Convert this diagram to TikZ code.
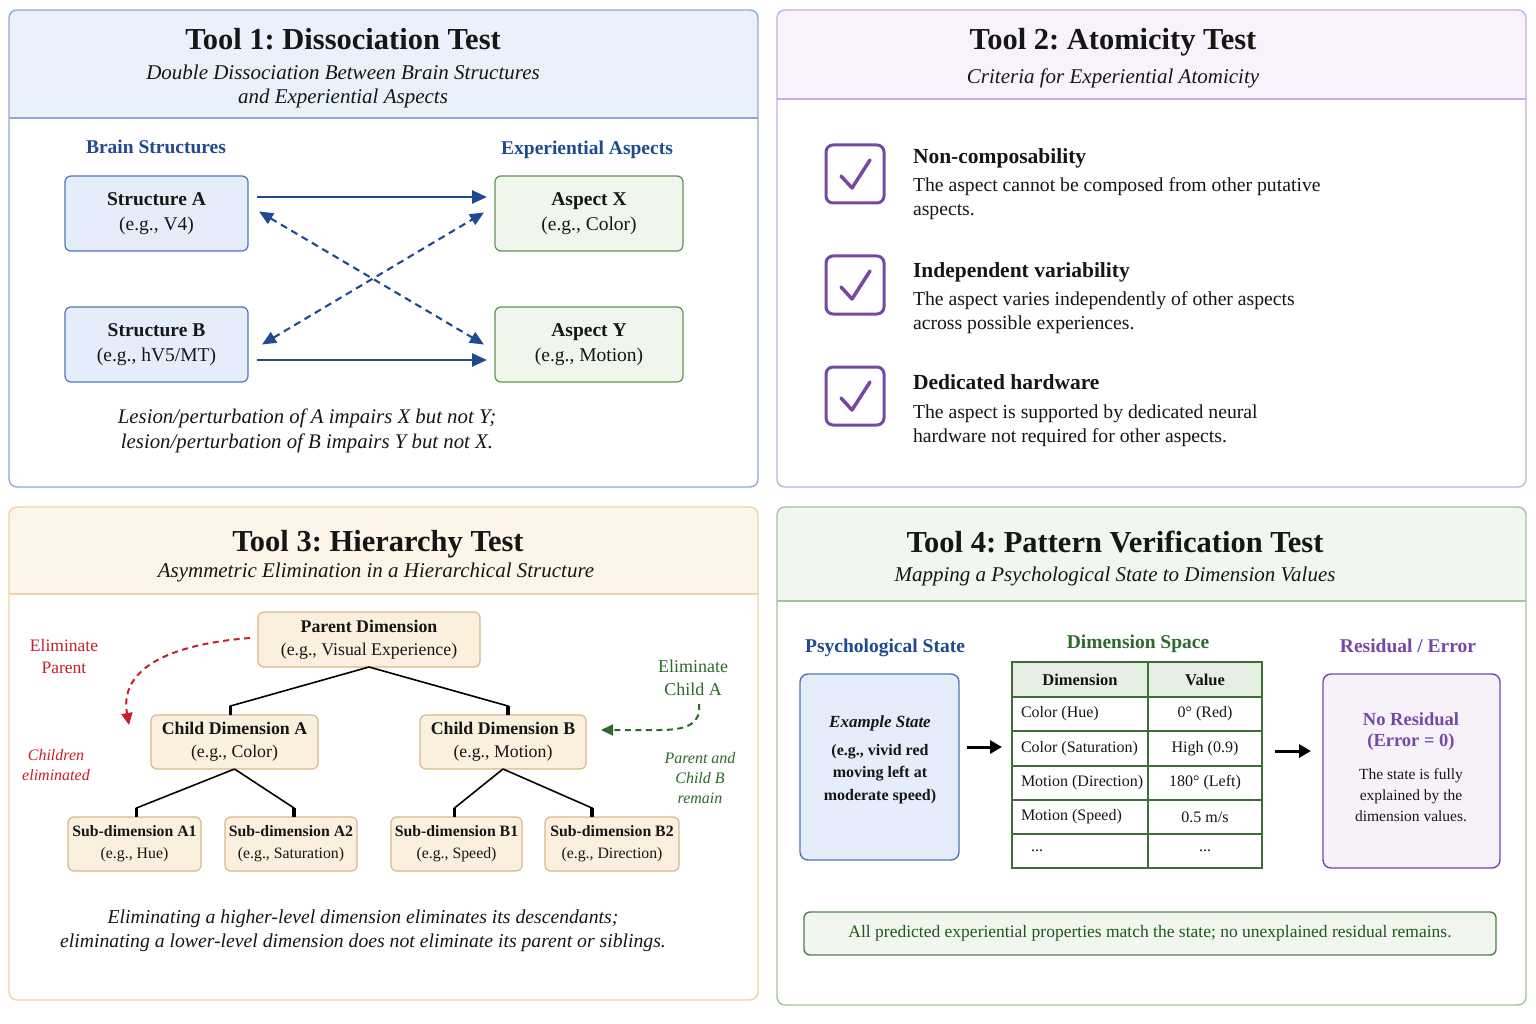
\documentclass[tikz,border=0pt]{standalone}
\usepackage{fontspec}
\setmainfont{Liberation Serif}
\usetikzlibrary{arrows.meta,calc}
\frenchspacing
\definecolor{txt}{HTML}{161616}
\definecolor{bdP1}{HTML}{8FAAD6}\definecolor{hdP1}{HTML}{EAF1FB}
\definecolor{bdP2}{HTML}{C7AEDD}\definecolor{hdP2}{HTML}{F7F2FB}
\definecolor{bdP3}{HTML}{EED3A6}\definecolor{hdP3}{HTML}{FDF5E9}
\definecolor{bdP4}{HTML}{A4C49E}\definecolor{hdP4}{HTML}{F1F7EF}
\definecolor{blueT}{HTML}{1F4A8F}
\definecolor{blueBd}{HTML}{4F77B8}\definecolor{blueF}{HTML}{E4EDF9}
\definecolor{grnBd}{HTML}{5E9450}\definecolor{grnF}{HTML}{EFF6EC}
\definecolor{grnT}{HTML}{2B6A2B}
\definecolor{tblBd}{HTML}{3F6B3A}\definecolor{tblH}{HTML}{E6F0E2}
\definecolor{purp}{HTML}{7449A6}\definecolor{purpF}{HTML}{F7F2FA}
\definecolor{orBd}{HTML}{D9B98A}\definecolor{orF}{HTML}{FBEFDD}
\definecolor{redT}{HTML}{C4202A}
\definecolor{noteBd}{HTML}{4E8248}\definecolor{noteF}{HTML}{F1F7EF}
\newcommand{\fsz}[2]{\fontsize{#1pt}{#2pt}\selectfont}
\newcommand{\resT}[1]{\textcolor{purp}{\fsz{18.5}{24}\bfseries #1}}
\newcommand{\mypanel}[6]{%
  \begin{scope}
    \clip[rounded corners=8] (#1,#2) rectangle (#3,#4);
    \fill[white] (#1,#2) rectangle (#3,#4);
    \fill[hd#6] (#1,#2) rectangle (#3,#5);
  \end{scope}
  \draw[bd#6,line width=1.2] (#1,#5) -- (#3,#5);
  \draw[bd#6,line width=1.4,rounded corners=8] (#1,#2) rectangle (#3,#4);}
\begin{document}
\begin{tikzpicture}[x=1pt,y=-1pt,
  every node/.style={inner sep=0pt,outer sep=0pt,text=txt},
  ttl/.style={font=\fsz{30.5}{34}\bfseries,anchor=base},
  subt/.style={font=\fsz{21}{24}\itshape,align=center},
  sect/.style={font=\fsz{19.5}{22}\bfseries,text=blueT,anchor=base},
  sbox/.style={draw=blueBd,fill=blueF,rounded corners=6,line width=1.2,minimum width=183,minimum height=75,align=center,font=\fsz{19.5}{25}},
  abox/.style={sbox,draw=grnBd,fill=grnF,minimum width=188},
  sarrow/.style={draw=blueT,line width=2.6,-{Triangle[length=15pt,width=13pt]}},
  darrow/.style={draw=blueT,line width=2.1,dash pattern=on 7pt off 5pt,{Triangle[length=14pt,width=12pt]}-{Triangle[length=14pt,width=12pt]}},
  captxt/.style={font=\fsz{20.8}{25}\itshape,align=center},
  chk/.style={draw=purp,line width=3,rounded corners=7,minimum size=58,fill=white},
  tick/.style={draw=purp,line width=3.5,line cap=round,line join=round},
  hd/.style={font=\fsz{21.5}{24}\bfseries,anchor=base west},
  bd/.style={font=\fsz{19.7}{24},align=left,anchor=west},
  tbox/.style={draw=orBd,fill=orF,rounded corners=6,line width=1.2,align=center,font=\fsz{17.8}{23}},
  subbox/.style={tbox,font=\fsz{15.8}{22},minimum width=132,minimum height=54},
  tline/.style={draw=black,line width=1.6},
  stub/.style={draw=black,line width=3.5},
  lbl/.style={font=\fsz{17.5}{22},align=center},
  ilbl/.style={font=\fsz{16}{20}\itshape,align=center},
  tcell/.style={font=\fsz{16}{20}},
  thead/.style={font=\fsz{16.5}{20}\bfseries},
  karrow/.style={draw=black,line width=3,-{Triangle[length=12pt,width=13pt]}}
]
\useasboundingbox (0,0) rectangle (1536,1024);
\fill[white] (0,0) rectangle (1536,1024);

% ---------- panels
\mypanel{9}{10}{758}{487}{118}{P1}
\mypanel{777}{10}{1526}{487}{99}{P2}
\mypanel{9}{507}{758}{1000}{594}{P3}
\mypanel{777}{507}{1526}{1005}{601}{P4}

% ---------- Tool 1
\node[ttl] (t1) at (343,50) {Tool 1: Dissociation Test};
\node[subt] (s1) at (343,86) {Double Dissociation Between Brain Structures\\and Experiential Aspects};
\node[sect] (bs) at (156,154) {Brain Structures};
\node[sect] (ea) at (587,155) {Experiential Aspects};
\node[sbox] (sA) at (156.5,213.5) {\textbf{Structure A}\\(e.g., V4)};
\node[sbox] (sB) at (156.5,344.5) {\textbf{Structure B}\\(e.g., hV5/MT)};
\node[abox] (aX) at (589,213.5) {\textbf{Aspect X}\\(e.g., Color)};
\node[abox] (aY) at (589,344.5) {\textbf{Aspect Y}\\(e.g., Motion)};
\draw[sarrow] ([xshift=9pt,yshift=16.5pt]sA.east) -- ([xshift=-8pt,yshift=16.5pt]aX.west);
\draw[sarrow] ([xshift=9pt,yshift=-15.5pt]sB.east) -- ([xshift=-8pt,yshift=-15.5pt]aY.west);
\draw[darrow] ([xshift=11pt,yshift=2pt]sA.east) -- ([xshift=-11pt,yshift=0pt]aY.west);
\draw[darrow] ([xshift=14pt,yshift=0pt]sB.east) -- ([xshift=-11pt,yshift=1pt]aX.west);
\node[captxt] (c1) at (307,431) {Lesion/perturbation of A impairs X but not Y;\\lesion/perturbation of B impairs Y but not X.};

% ---------- Tool 2
\node[ttl] (t2) at (1113,50) {Tool 2: Atomicity Test};
\node[subt] (s2) at (1113,78) {Criteria for Experiential Atomicity};
\foreach \n/\y in {k1/174,k2/285,k3/396}{
  \node[chk] (\n) at (855,\y) {};
  \draw[tick] ($(\n)+(-14,2)$) -- ($(\n)+(-3,14)$) -- ($(\n)+(15,-14)$);
}
\node[hd] (h1) at (913,164) {Non-composability};
\node[bd] (b1) at (913,199) {The aspect cannot be composed from other putative\\aspects.};
\node[hd] (h2) at (913,277) {Independent variability};
\node[bd] (b2) at (913,313) {The aspect varies independently of other aspects\\across possible experiences.};
\node[hd] (h3) at (913,389) {Dedicated hardware};
\node[bd] (b3) at (913,426) {The aspect is supported by dedicated neural\\hardware not required for other aspects.};

% ---------- Tool 3
\node[ttl] (t3) at (378,551) {Tool 3: Hierarchy Test};
\node[subt] (s3) at (376,572) {Asymmetric Elimination in a Hierarchical Structure};
\node[tbox,minimum width=222,minimum height=55] (par) at (369,639.5) {\textbf{Parent Dimension}\\(e.g., Visual Experience)};
\node[tbox,minimum width=167,minimum height=54] (cA) at (234.5,742) {\textbf{Child Dimension A}\\(e.g., Color)};
\node[tbox,minimum width=166,minimum height=54] (cB) at (503,742) {\textbf{Child Dimension B}\\(e.g., Motion)};
\node[subbox,minimum width=133] (sA1) at (134.5,844) {\textbf{Sub-dimension A1}\\(e.g., Hue)};
\node[subbox] (sA2) at (291,844) {\textbf{Sub-dimension A2}\\(e.g., Saturation)};
\node[subbox,minimum width=131] (sB1) at (456.5,844) {\textbf{Sub-dimension B1}\\(e.g., Speed)};
\node[subbox,minimum width=134] (sB2) at (612,844) {\textbf{Sub-dimension B2}\\(e.g., Direction)};
% tree edges
\draw[tline] (par.south) -- ($(cA.north)+(-4,-9)$) -- ($(cA.north)+(-4,0)$);
\draw[stub] ($(cA.north)+(-4,-9)$) -- ($(cA.north)+(-4,0)$);
\draw[tline] (par.south) -- ($(cB.north)+(5,-9)$) -- ($(cB.north)+(5,0)$);
\draw[stub] ($(cB.north)+(5,-9)$) -- ($(cB.north)+(5,0)$);
\draw[tline] (cA.south) -- ($(sA1.north)+(2,-9)$) -- ($(sA1.north)+(2,0)$);
\draw[stub] ($(sA1.north)+(2,-9)$) -- ($(sA1.north)+(2,0)$);
\draw[tline] (cA.south) -- ($(sA2.north)+(3,-9)$) -- ($(sA2.north)+(3,0)$);
\draw[stub] ($(sA2.north)+(3,-9)$) -- ($(sA2.north)+(3,0)$);
\draw[tline] (cB.south) -- ($(sB1.north)+(-2,-9)$) -- ($(sB1.north)+(-2,0)$);
\draw[stub] ($(sB1.north)+(-2,-9)$) -- ($(sB1.north)+(-2,0)$);
\draw[tline] (cB.south) -- ($(sB2.north)+(-20,-9)$) -- ($(sB2.north)+(-20,0)$);
\draw[stub] ($(sB2.north)+(-20,-9)$) -- ($(sB2.north)+(-20,0)$);
% elimination annotations
\node[lbl,text=redT] (eP) at (64,657) {Eliminate\\Parent};
\node[ilbl,text=redT] (ce) at (56,765) {Children\\eliminated};
\coordinate (redEnd) at (129,725);
\draw[draw=redT,line width=2,dash pattern=on 6pt off 4.5pt,-{Triangle[length=12pt,width=11pt]}]
  ([xshift=-8pt,yshift=1.5pt]par.west) .. controls (185,643) and (118,662) .. (redEnd);
\node[lbl,text=grnT,font=\fsz{18}{23}] (eC) at (693,678) {Eliminate\\Child A};
\coordinate (gStart) at (699,704);
\draw[draw=grnT,line width=2,dash pattern=on 6pt off 4.5pt,-{Triangle[length=12pt,width=11pt]}]
  (gStart) .. controls (701,722) and (690,730) .. (660,730) -- ([xshift=15pt,yshift=12pt]cB.east);
\node[ilbl,text=grnT] (pr) at (700,778) {Parent and\\Child B\\remain};
\node[captxt,font=\fsz{19.7}{24.5}\itshape] (c3) at (363,931) {Eliminating a higher-level dimension eliminates its descendants;\\eliminating a lower-level dimension does not eliminate its parent or siblings.};

% ---------- Tool 4
\node[ttl] (t4) at (1115,552) {Tool 4: Pattern Verification Test};
\node[subt] (s4) at (1115,576) {Mapping a Psychological State to Dimension Values};
\node[sect] (ps) at (885,652) {Psychological State};
\node[sect,text=grnT] (ds) at (1138,648) {Dimension Space};
\node[sect,text=purp] (re) at (1408,652) {Residual / Error};
\node[draw=blueBd,fill=blueF,rounded corners=8,line width=1.4,minimum width=159,minimum height=186] (ex) at (879.5,767) {};
\node[align=center,font=\fsz{16}{22.5}\bfseries] (ext) at (880,760) {\textit{\fsz{17}{22.5}Example State}\\[5pt](e.g., vivid red\\moving left at\\moderate speed)};
% table
\node[draw=tblBd,line width=1.6,minimum width=250,minimum height=206] (tbl) at (1137,765) {};
\fill[tblH] ([shift={(0.8,-0.8)}]tbl.north west) rectangle (1261.2,697);
\draw[tblBd,line width=1.4] (1148,662) -- (1148,868);
\foreach \yy in {697,731,766,800,834}{\draw[tblBd,line width=1.4] (1012,\yy) -- (1262,\yy);}
\draw[tblBd,line width=1.6] (tbl.north west) rectangle (tbl.south east);
\node[thead] (th1) at (1080,679.5) {Dimension};
\node[thead] (th2) at (1205,679.5) {Value};
\node[tcell,anchor=west] (r1a) at (1021,714) {Color (Hue)};
\node[tcell] (r1b) at (1205,714) {0° (Red)};
\node[tcell,anchor=west] (r2a) at (1021,748.5) {Color (Saturation)};
\node[tcell] (r2b) at (1205,748.5) {High (0.9)};
\node[tcell,anchor=west] (r3a) at (1021,783) {Motion (Direction)};
\node[tcell] (r3b) at (1205,783) {180° (Left)};
\node[tcell,anchor=west] (r4a) at (1021,817) {Motion (Speed)};
\node[tcell] (r4b) at (1205,817) {0.5 m/s};
\node[tcell] (r5a) at (1037,851) {...};
\node[tcell] (r5b) at (1205,851) {...};
% residual box
\node[draw=purp,fill=purpF,rounded corners=8,line width=1.4,minimum width=177,minimum height=194] (res) at (1411.5,771) {};
\node[align=center,font=\fsz{15.5}{21}] (rest) at (1411,767) {\resT{No Residual}\\\resT{(Error = 0)}\\[12pt]The state is fully\\explained by the\\dimension values.};
\draw[karrow] ([xshift=8pt,yshift=20pt]ex.east) -- ([xshift=-10pt,yshift=18pt]tbl.west);
\draw[karrow] ([xshift=13pt,yshift=14pt]tbl.east) -- ([xshift=-12pt,yshift=20pt]res.west);
\node[draw=noteBd,fill=noteF,rounded corners=6,line width=1.4,minimum width=692,minimum height=43,font=\fsz{17.5}{20},text=grnT!80!black] (note) at (1150,933.5) {All predicted experiential properties match the state; no unexplained residual remains.};
\end{tikzpicture}
\end{document}
